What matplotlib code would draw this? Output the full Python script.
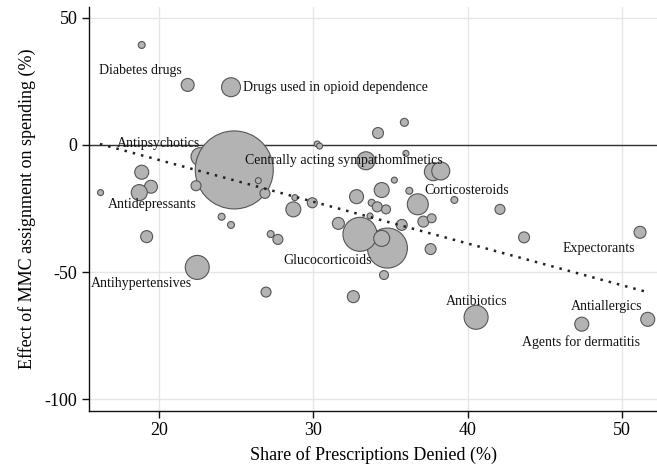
import numpy as np
import matplotlib
matplotlib.use("Agg")
import matplotlib.pyplot as plt

plt.rcParams['font.family'] = ['Liberation Serif', 'DejaVu Serif']
plt.rcParams['axes.unicode_minus'] = False

# drug classes: share denied (%), effect on spending (%), spending weight
share_denied = [18.87, 21.85, 24.66, 30.25, 30.40, 34.19, 35.90,
                22.65, 32.80, 24.87, 22.39, 26.43, 26.86, 28.70, 28.80,
                29.93, 18.87, 19.47, 18.71, 16.20, 19.19, 24.05, 24.66,
                22.47, 27.23, 27.70, 26.93, 32.59, 31.62, 34.80, 33.02,
                34.43, 34.58, 33.67, 35.73, 37.60, 37.13, 37.67, 36.77,
                34.43, 35.25, 36.22, 39.14, 33.78, 34.14, 34.71, 33.41,
                36.00, 37.78, 38.26, 42.10, 43.66, 51.18, 40.55, 47.40,
                51.68]
effect = [39.3, 23.6, 22.7, 0.4, -0.4, 4.7, 8.9,
          -4.6, -20.3, -9.8, -16.0, -14.0, -19.0, -25.3, -20.7,
          -22.7, -10.7, -16.4, -18.7, -18.7, -36.0, -28.2, -31.4,
          -48.1, -35.0, -37.1, -57.8, -59.6, -30.8, -40.5, -35.1,
          -36.7, -51.1, -27.9, -31.4, -40.9, -30.1, -28.8, -23.3,
          -17.7, -13.8, -18.0, -21.6, -22.7, -24.3, -25.3, -6.2,
          -3.3, -10.5, -10.2, -25.3, -36.3, -34.3, -67.7, -70.4,
          -68.5]
weight = [12, 42, 90, 9, 9, 30, 16,
          81, 49, 1521, 25, 9, 25, 56, 9,
          25, 49, 42, 64, 9, 36, 12, 12,
          144, 12, 25, 25, 36, 36, 400, 289,
          64, 20, 9, 30, 30, 30, 20, 110,
          56, 9, 12, 12, 12, 25, 20, 81,
          9, 81, 81, 25, 30, 36, 144, 49,
          49]

# weighted linear fit shown as dotted line
fit_intercept = 26.9
fit_slope = -1.64
fit_range = [16.16, 51.6]

labels = ["Diabetes drugs", "Drugs used in opioid dependence", "Antipsychotics",
          "Centrally acting sympathomimetics", "Antidepressants",
          "Antihypertensives", "Glucocorticoids", "Corticosteroids",
          "Expectorants", "Antibiotics", "Antiallergics",
          "Agents for dermatitis"]
label_x = [16.1, 25.42, 17.28, 25.56, 16.66, 15.58, 28.05, 37.19,
           46.14, 38.58, 46.69, 43.55]
label_y = [29.1, 22.7, 0.6, -5.9, -23.2, -54.4, -45.5, -18.0,
           -40.6, -61.6, -63.3, -77.3]

fig = plt.figure(figsize=(6.57, 4.66), dpi=100)
ax = fig.add_axes([0.1359, 0.1187, 0.8641, 0.8656])

ax.set_xlim(15.47, 52.28)
ax.set_ylim(-104.4, 54.1)

ax.set_xticks([20, 30, 40, 50])
ax.set_yticks([50, 0, -50, -100])
ax.grid(True, color='#e6e6e6', linewidth=1.0, zorder=0)
ax.set_axisbelow(True)
ax.axhline(0, color='#333333', linewidth=1.0, zorder=1)

sizes = np.array(weight) * (2 * 0.72) ** 2
ax.scatter(share_denied, effect, s=sizes, facecolor='#b3b3b3',
           edgecolor='#555555', linewidth=0.8, zorder=2)

xs = np.array(fit_range)
ax.plot(xs, fit_intercept + fit_slope * xs, linestyle=(0, (1, 2.4)),
        color='#222222', linewidth=1.8, zorder=3)

for t, x, y in zip(labels, label_x, label_y):
    ax.text(x, y, t, ha='left', va='center', fontsize=10,
            color='#111111', zorder=4)

for side in ['top', 'right']:
    ax.spines[side].set_visible(False)
for side in ['left', 'bottom']:
    ax.spines[side].set_linewidth(1.0)
    ax.spines[side].set_color('#111111')

ax.tick_params(axis='both', direction='out', length=5, width=1,
               labelsize=13, color='#111111')
ax.set_xlabel("Share of Prescriptions Denied (%)", fontsize=13, labelpad=5)
ax.set_ylabel("Effect of MMC assignment on spending (%)", fontsize=13,
              labelpad=6)

fig.savefig("out.png", dpi=100)
